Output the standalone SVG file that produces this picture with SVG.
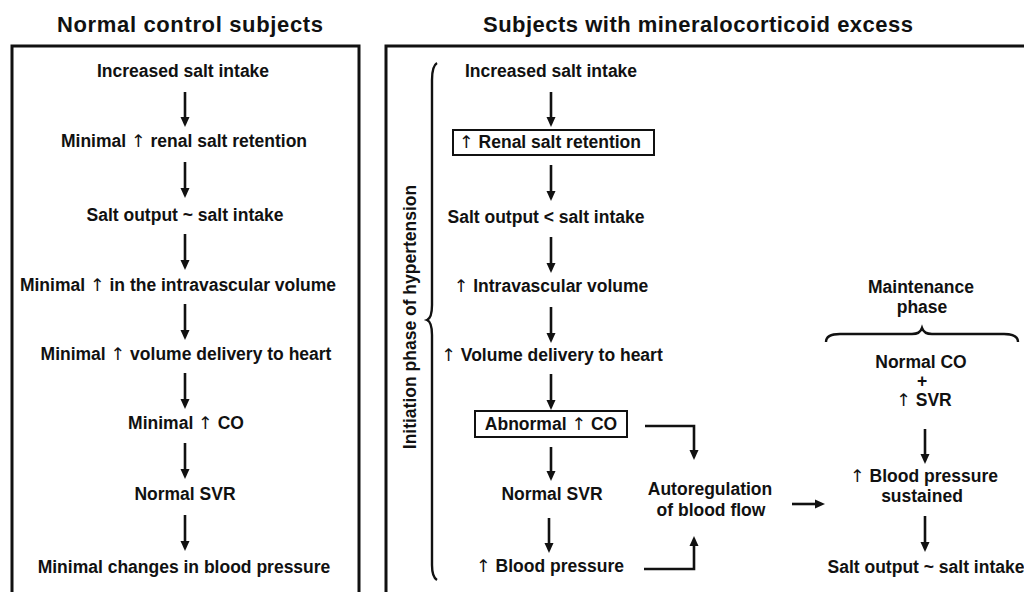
<svg xmlns="http://www.w3.org/2000/svg" width="1024" height="592" viewBox="0 0 1024 592">
<style>
text{font-family:"Liberation Sans",Arial,sans-serif;font-weight:bold;font-size:17.5px;fill:#111;text-anchor:middle;dominant-baseline:central}
.t{font-size:22px}
.up{font-family:"DejaVu Sans",sans-serif;font-weight:normal;fill:#111}
.frame{fill:none;stroke:#111;stroke-width:3}
.box{fill:#fff;stroke:#111;stroke-width:2}
.c{fill:none;stroke:#111;stroke-width:2.6}
.br{fill:none;stroke:#111;stroke-width:2.4}
</style>
<defs>
<marker id="ah" markerWidth="10" markerHeight="10" refX="4" refY="5" viewBox="0 0 10 10" markerUnits="userSpaceOnUse" orient="auto"><path d="M0,0.5 L10,5 L0,9.5 z" fill="#111"/></marker>
</defs>
<rect width="1024" height="592" fill="#fff"/>
<g id="titles">
<text class="t" x="190" y="24" textLength="266" lengthAdjust="spacing">Normal control subjects</text>
<text class="t" x="698" y="24" textLength="430" lengthAdjust="spacing">Subjects with mineralocorticoid excess</text>
</g>
<g id="frames">
<rect class="frame" x="12" y="46" width="347" height="560"/>
<rect class="frame" x="386" y="46" width="660" height="560"/>
</g>
<g id="left-column">
<g id="l1"><text x="183" y="71">Increased salt intake</text></g>
<g id="l2"><text x="184" y="141">Minimal <tspan class="up">↑</tspan> renal salt retention</text></g>
<g id="l3"><text x="185" y="215">Salt output ~ salt intake</text></g>
<g id="l4"><text x="178" y="285">Minimal <tspan class="up">↑</tspan> in the intravascular volume</text></g>
<g id="l5"><text x="186" y="354">Minimal <tspan class="up">↑</tspan> volume delivery to heart</text></g>
<g id="l6"><text x="186" y="423">Minimal <tspan class="up">↑</tspan> CO</text></g>
<g id="l7"><text x="185" y="494">Normal SVR</text></g>
<g id="l8"><text x="184" y="567">Minimal changes in blood pressure</text></g>
</g>
<g id="right-column">
<g id="r1"><text x="551" y="71">Increased salt intake</text></g>
<g id="r2"><rect class="box" x="453" y="130" width="201" height="25"/><text x="550" y="142"><tspan class="up">↑</tspan> Renal salt retention</text></g>
<g id="r3"><text x="546" y="217">Salt output &lt; salt intake</text></g>
<g id="r4"><text x="551" y="286"><tspan class="up">↑</tspan> Intravascular volume</text></g>
<g id="r5"><text x="552" y="355"><tspan class="up">↑</tspan> Volume delivery to heart</text></g>
<g id="r6"><rect class="box" x="475" y="411" width="152" height="26"/><text x="551" y="424">Abnormal <tspan class="up">↑</tspan> CO</text></g>
<g id="r7"><text x="552" y="494">Normal SVR</text></g>
<g id="r8"><text x="550" y="566"><tspan class="up">↑</tspan> Blood pressure</text></g>
<g id="auto"><text x="710" y="489">Autoregulation</text><text x="711" y="510">of blood flow</text></g>
</g>
<g id="maintenance">
<g id="m0"><text x="921" y="287">Maintenance</text><text x="922" y="307">phase</text></g>
<g id="m1"><text x="921" y="362">Normal CO</text><text x="922" y="381">+</text><text x="924" y="400"><tspan class="up">↑</tspan> SVR</text></g>
<g id="m2"><text x="924" y="476"><tspan class="up">↑</tspan> Blood pressure</text><text x="922" y="496">sustained</text></g>
<g id="m3"><text x="926" y="567">Salt output ~ salt intake</text></g>
</g>
<g id="braces">
<path class="br" d="M437,63 Q432,66 432,80 L432,305 Q432,318 427,320 Q432,322 432,335 L432,565 Q432,577 437,580"/>
<path class="br" d="M826,342 Q826,334 840,334 L912,334 Q920,334 922,328 Q924,334 932,334 L1004,334 Q1018,334 1018,342"/>
<text x="410" y="317" transform="rotate(-90 410 317)">Initiation phase of hypertension</text>
</g>
<g id="connectors">
<path class="c" d="M185,92 V121" marker-end="url(#ah)"/>
<path class="c" d="M185,162 V192" marker-end="url(#ah)"/>
<path class="c" d="M185,234 V264" marker-end="url(#ah)"/>
<path class="c" d="M185,304 V334" marker-end="url(#ah)"/>
<path class="c" d="M185,373 V403" marker-end="url(#ah)"/>
<path class="c" d="M185,443 V473" marker-end="url(#ah)"/>
<path class="c" d="M185,515 V545" marker-end="url(#ah)"/>
<path class="c" d="M551,92 V121" marker-end="url(#ah)"/>
<path class="c" d="M551,165 V195" marker-end="url(#ah)"/>
<path class="c" d="M551,237 V267" marker-end="url(#ah)"/>
<path class="c" d="M551,307 V337" marker-end="url(#ah)"/>
<path class="c" d="M551,374 V404" marker-end="url(#ah)"/>
<path class="c" d="M551,447 V475" marker-end="url(#ah)"/>
<path class="c" d="M549,518 V547" marker-end="url(#ah)"/>
<path class="c" d="M645,426 H694 V454" marker-end="url(#ah)"/>
<path class="c" d="M644,569 H694 V542" marker-end="url(#ah)"/>
<path class="c" d="M792,504 H819" marker-end="url(#ah)"/>
<path class="c" d="M925,429 V458" marker-end="url(#ah)"/>
<path class="c" d="M925,516 V546" marker-end="url(#ah)"/>
</g>
</svg>
